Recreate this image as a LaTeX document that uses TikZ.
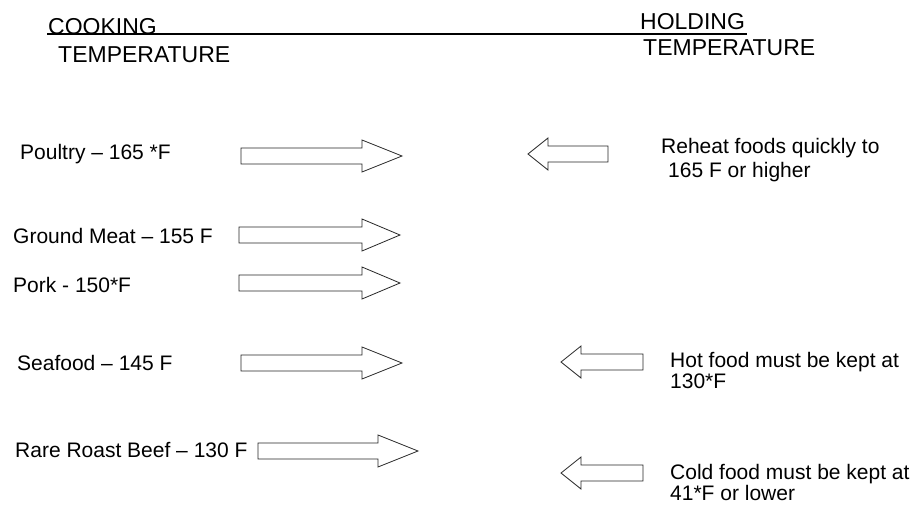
\documentclass[tikz,border=0pt]{standalone}
\usepackage{fontspec}
\setmainfont{Liberation Sans}
\usetikzlibrary{positioning}

% one block arrow: #1 tail x, #2 head base x, #3 tip x, #4 middle y
\newcommand{\fatarrow}[4]{%
  \draw[blockarrow] (#1,#4-8) -- (#2,#4-8) -- (#2,#4-16) -- (#3,#4)
    -- (#2,#4+16) -- (#2,#4+8) -- (#1,#4+8) -- cycle;}

\begin{document}
\begin{tikzpicture}[x=1pt, y=-1pt,
    head/.style={anchor=base west, inner sep=0pt, font=\fontsize{23}{26}\selectfont},
    food/.style={anchor=base west, inner sep=0pt, font=\fontsize{21}{24}\selectfont},
    rule/.style={align=left, anchor=base west, inner sep=0pt, font=\fontsize{21}{21}\selectfont},
    blockarrow/.style={draw=black!85, line width=0.8pt, fill=white, line join=miter},
]
\useasboundingbox (0,0) rectangle (917,514);

% headings
\node[head] (cook)  at (48,34)  {COOKING};
\node[head] (cookT) at (58,62)  {TEMPERATURE};
\node[head] (hold)  at (640,29) {HOLDING};
\node[head] (holdT) at (643,55) {TEMPERATURE};
\coordinate (ruleL) at (47,34);
\coordinate (ruleR) at (747,34);
\draw[line width=1.2pt] (ruleL) -- (ruleR);

% cooking temperatures
\node[food] (poultry) at (20,159) {Poultry -- 165 *F};
\node[food] (ground)  at (13,243) {Ground Meat -- 155 F};
\node[food] (pork)    at (13,292) {Pork - 150*F};
\node[food] (seafood) at (17,370) {Seafood -- 145 F};
\node[food] (beef)    at (15,457) {Rare Roast Beef -- 130 F};

\fatarrow{241}{362}{402}{156}
\fatarrow{239}{362}{400}{235}
\fatarrow{239}{362}{400}{283}
\fatarrow{241}{362}{402}{363}
\fatarrow{258}{378}{418}{451}

% holding temperatures (base anchor sits on the last line)
\fatarrow{608}{548}{528}{154}
\fatarrow{643}{581}{561}{362}
\fatarrow{643}{581}{561}{473}

\node[rule] (reheat) at (661,177) {Reheat foods quickly to\\[3pt]\hspace*{7pt}165 F or higher};
\node[rule] (hot)    at (670,388) {Hot food must be kept at\\130*F};
\node[rule] (cold)   at (670,500) {Cold food must be kept at\\41*F or lower};
\end{tikzpicture}
\end{document}
